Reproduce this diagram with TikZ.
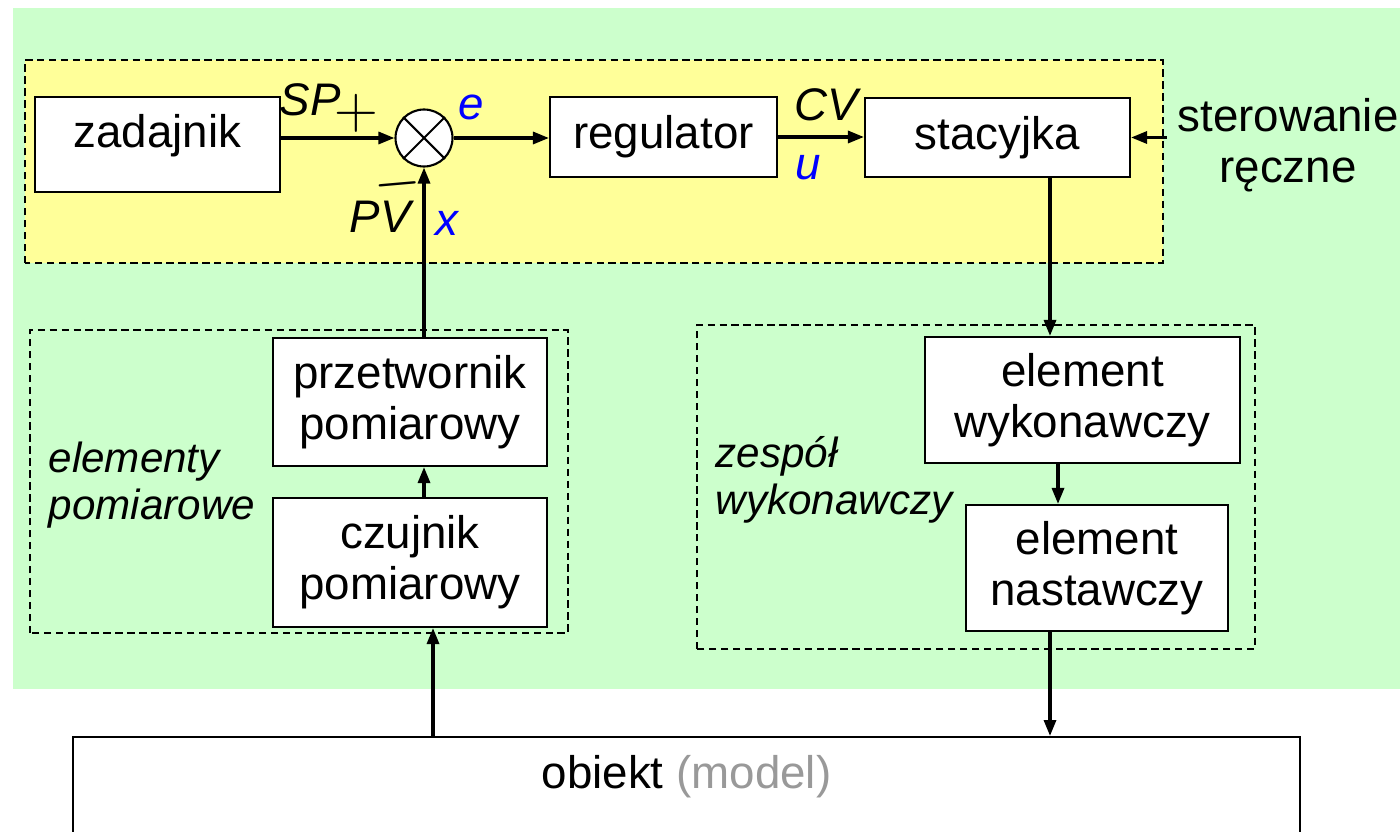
\documentclass[tikz,border=0pt]{standalone}
\usepackage{fontspec}
\setmainfont{Liberation Sans}
\usetikzlibrary{arrows.meta}
\definecolor{tlo}{HTML}{CCFFCC}
\definecolor{ramka}{HTML}{FFFF99}
\definecolor{niebieski}{HTML}{0000FF}
\definecolor{szary}{HTML}{999999}
\tikzset{
  blok/.style={draw,fill=white,line width=0.6pt,inner sep=0pt,align=center,
    font=\fontsize{13}{14.5}\selectfont},
  grupa/.style={draw,line width=0.75pt,dash pattern=on 2.1pt off 1.3pt},
  sygnal/.style={line width=0.9pt,-{Triangle[length=1.6mm,width=1.2mm]}},
  opis/.style={inner sep=0pt,font=\fontsize{13}{14.5}\selectfont\itshape},
  zmienna/.style={opis,text=niebieski},
  znak/.style={inner sep=0pt,font=\fontsize{16}{16}\selectfont},
  podpis/.style={inner sep=0pt,anchor=west,align=left,font=\fontsize{12}{13.5}\selectfont\itshape}
}

\begin{document}
\begin{tikzpicture}
    \useasboundingbox (0,0) rectangle (14,8.31);
    \clip (0,0) rectangle (14,8.31);
    \fill[tlo] (0.13,1.42) rectangle (14,8.23);
    \filldraw[grupa,fill=ramka] (0.25,5.68) rectangle (11.63,7.71);
    \draw[grupa] (0.30,1.98) rectangle (5.68,5.01);
    \draw[grupa] (6.97,1.82) rectangle (12.55,5.06);

    \node[blok,minimum width=2.45cm,minimum height=0.95cm,text depth=0.28cm] (zadajnik) at (1.575,6.865) {zadajnik};
    \node[draw,circle,fill=white,minimum size=0.57cm,inner sep=0pt,line width=0.6pt] (suma) at (4.24,6.93) {};
    \draw[line width=0.6pt] (suma.north west) -- (suma.south east) (suma.north east) -- (suma.south west);
    \node[blok,minimum width=2.27cm,minimum height=0.80cm] (regulator) at (6.635,6.94) {regulator};
    \node[blok,minimum width=2.65cm,minimum height=0.79cm] (stacyjka) at (9.975,6.935) {stacyjka};
    \node[blok,minimum width=2.74cm,minimum height=1.28cm] (przetwornik) at (4.10,4.29) {przetwornik\\pomiarowy};
    \node[blok,minimum width=2.74cm,minimum height=1.29cm] (czujnik) at (4.10,2.685) {czujnik\\pomiarowy};
    \node[blok,minimum width=3.15cm,minimum height=1.26cm] (wykonawczy) at (10.825,4.31) {element\\wykonawczy};
    \node[blok,minimum width=2.62cm,minimum height=1.26cm] (nastawczy) at (10.97,2.63) {element\\nastawczy};
    \node[blok,anchor=north,minimum width=12.27cm,text height=0.4cm,text depth=0.8cm,inner ysep=0.11cm]
        (obiekt) at (6.865,0.95) {obiekt \textcolor{szary}{(model)}};

    \node[opis] (sp) at (3.10,7.31) {SP};
    \node[znak] (plus) at (3.56,7.18) {$+$};
    \node[znak,rotate=5] (minus) at (3.98,6.47) {$-$};
    \node[opis] (pv) at (3.80,6.14) {PV};
    \node[zmienna] (x) at (4.47,6.08) {x};
    \node[zmienna] (e) at (4.71,7.24) {e};
    \node[opis] (cv) at (8.26,7.26) {CV};
    \node[zmienna] (u) at (8.08,6.63) {u};
    \node[inner sep=0pt,align=center,font=\fontsize{13}{14.5}\selectfont] (reczne) at (12.88,6.86) {sterowanie\\ręczne};
    \node[podpis] (pomiarowe) at (0.48,3.46) {elementy\\pomiarowe};
    \node[podpis] (zespol) at (7.15,3.51) {zespół\\wykonawczy};

    \coordinate (pomiar) at (4.33,0);
    \coordinate (sterowanie) at (10.50,0);
    \coordinate (nastawa) at (10.58,0);

    \draw[sygnal] (zadajnik.east |- suma) -- (suma.west);
    \draw[sygnal] (suma.east) -- (regulator.west |- suma);
    \draw[sygnal] (regulator.east) -- (stacyjka.west |- regulator.east);
    \draw[sygnal] ([xshift=-0.1cm]reczne.west |- stacyjka.east) -- (stacyjka.east);
    \draw[sygnal] (przetwornik.north -| suma) -- (suma.south);
    \draw[sygnal] (czujnik.north -| suma) -- (przetwornik.south -| suma);
    \draw[sygnal] (obiekt.north -| pomiar) -- (czujnik.south -| pomiar);
    \draw[sygnal] (stacyjka.south -| sterowanie) -- (wykonawczy.north -| sterowanie);
    \draw[sygnal] (wykonawczy.south -| nastawa) -- (nastawczy.north -| nastawa);
    \draw[sygnal] (nastawczy.south -| sterowanie) -- (obiekt.north -| sterowanie);
\end{tikzpicture}
\end{document}
